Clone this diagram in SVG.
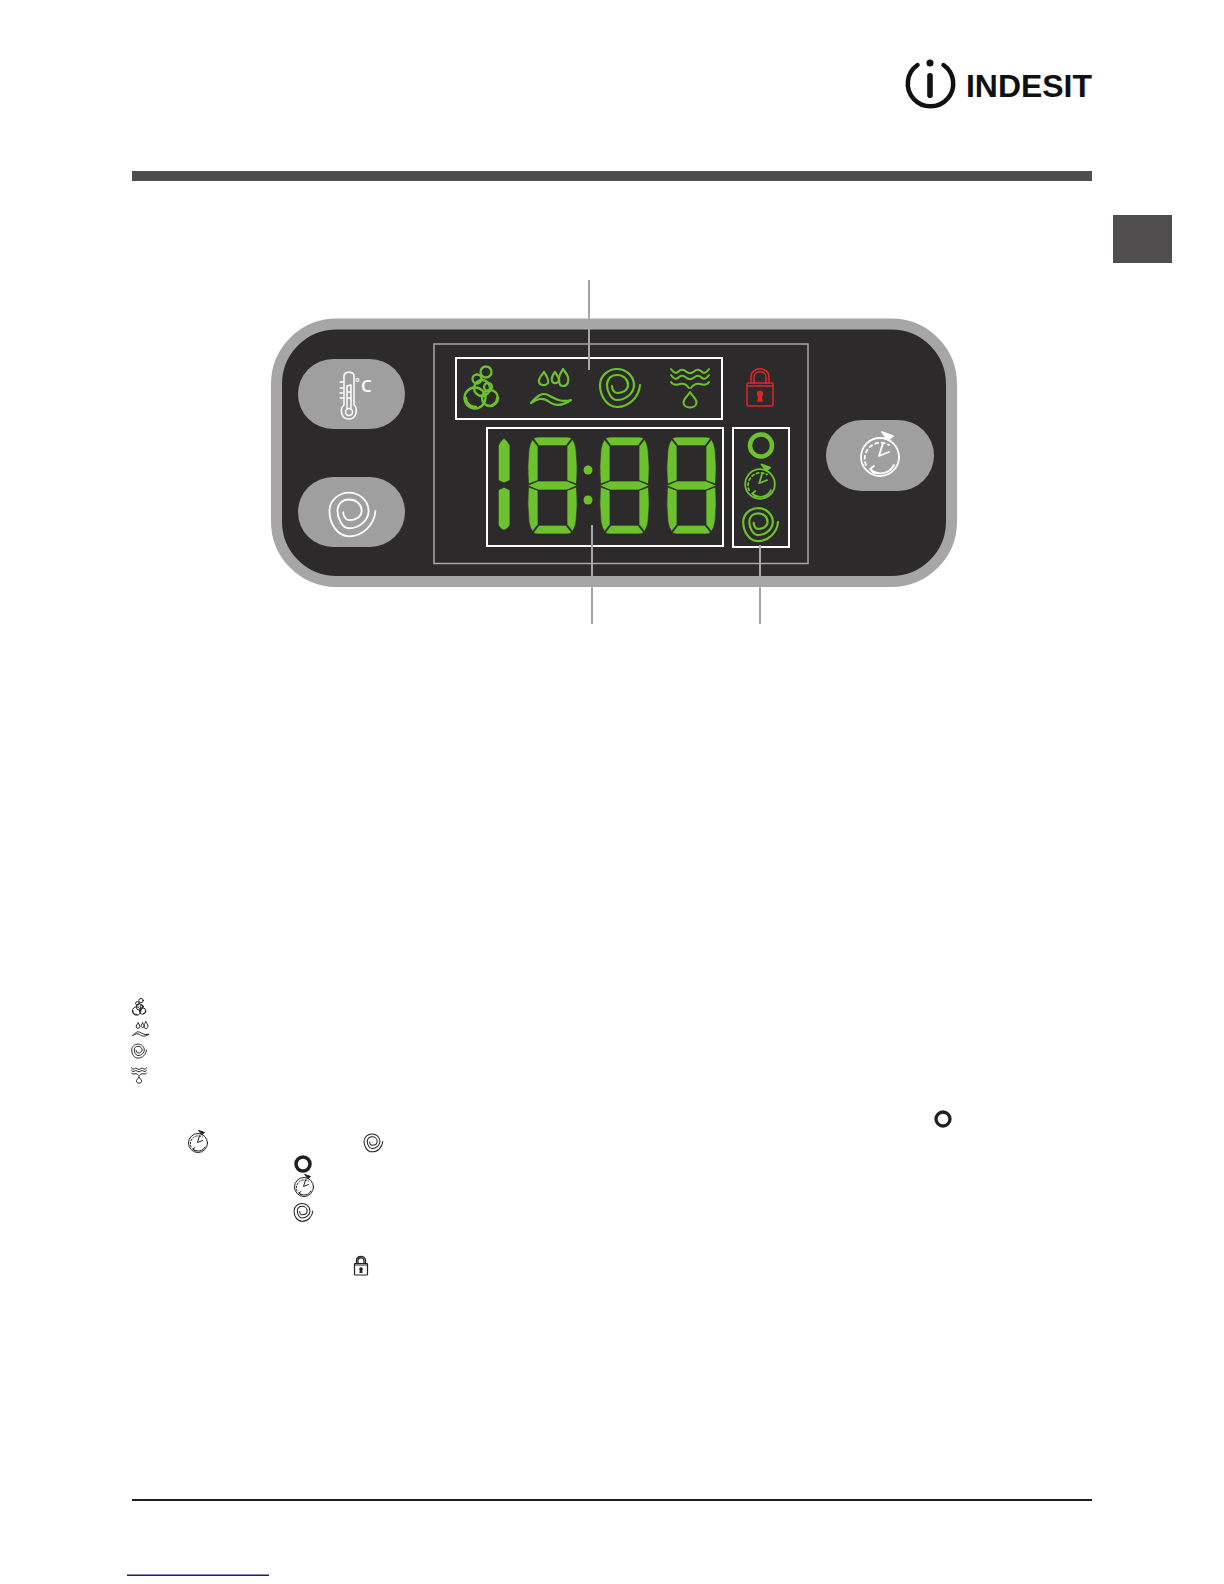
<svg xmlns="http://www.w3.org/2000/svg" width="1224" height="1584" viewBox="0 0 1224 1584">
<style>
.line{fill:none;stroke:currentColor;stroke-linecap:round;stroke-linejoin:round}
.box{fill:none;stroke:#fff;stroke-width:2}
.btn{fill:#a09f9f}
.conn{stroke:#a7a6a6;stroke-width:2;fill:none}
.seg{fill:#6cc22c;stroke:#2d2a2b;stroke-width:.7}
.g{color:#6cc22c}
.w{color:#fff}
.k{color:#231f20}
.r{color:#e0262a}
</style>
<defs>
<g id="spiral" class="line">
<path d="M23,0C22,12 12,22 0,22C-10,22 -17,11 -17,0C-17,-9 -9,-16 0,-16C9,-16 17,-9 17,0C17,8 9,15 0,15C-6,15 -10,6 -10,0C-10,-6 -6,-10 0,-10C6,-10 11,-6 11,0C11,5 6,8 0,8C-3,8 -5,4 -5,1"/>
</g>
<g id="watch" class="line">
<circle r="19"/>
<path d="M-14,8A16,16 0 0 1 9,-12" stroke-dasharray="3 3.500"/>
<path d="M3,-14L-1,-1L9,-5"/>
<path d="M-10,12A15,15 0 0 0 14,8M-10,12L-6,9M-10,12L-6,16"/>
<path d="M2,-25L13,-21L8,-17Z" fill="currentColor"/>
</g>
<g id="bubbles" class="line">
<circle cx="5" cy="-16" r="5.500"/><circle cx="-4" cy="-9" r="4.500"/><circle cx="1" cy="0" r="8"/>
<circle cx="7" cy="-1" r="4"/><circle cx="-6" cy="10" r="10.500"/><circle cx="9" cy="10" r="8"/>
<path d="M-15,10C-15,16 -10,19 -5,19"/><path d="M11,17C14,16 16,13 16,10"/>
</g>
<g id="drops" class="line">
<path d="M-7,-15C-10,-11 -13,-8 -12,-5C-11,-1 -5,-1 -3,-4C-2,-8 -5,-12 -7,-15Z"/>
<path d="M4,-15C1,-11 0,-9 1,-6C2,-3 7,-3 8,-7C8,-10 6,-12 4,-15Z"/>
<path d="M12,-18C10,-14 8,-12 8,-9C8,-5 8,-1 12,-1C17,-1 18,-6 17,-10C16,-13 14,-15 12,-18Z"/>
<path d="M-20,16C-14,9 -9,5 -3,8C3,11 9,16 20,13C10,20 3,19 -3,14C-9,10 -14,12 -20,16Z"/>
</g>
<g id="water" class="line">
<path d="M-19,-18Q-15,-12 -11.500,-15.500T-4,-15.500T4,-15.500T11.500,-15.500T19,-18"/>
<path d="M-19,-12Q-15,-6 -11.500,-9.500T-4,-9.500T4,-9.500T11.500,-9.500T19,-12"/>
<path d="M-19,-5C-17,-2 -13,-2 -10,-3C-6,-4 -3,-2 -1,1M19,-5C17,-2 13,-2 10,-3C6,-4 3,-2 1,1"/>
<path d="M0,5C-3,10 -6.500,12 -6.500,15.500C-6.500,22 6.500,22 6.500,15.500C6.500,12 3,10 0,5Z"/>
</g>
<g id="lock" class="line">
<path d="M-9,-5V-11C-9,-22 9,-22 9,-11V-5M-6,-5V-11C-6,-18 6,-18 6,-11V-5"/>
<rect x="-13" y="-5" width="26" height="23" rx="1.500"/>
<path d="M-13,-2H13"/>
<circle cy="6" r="2.400" fill="currentColor"/>
<path d="M-2,13L-1,7H1L2,13Z" fill="currentColor"/>
</g>
<g id="d1">
<path class="seg" d="M6,1.300Q10,4 12,9V43.300L6,46L.3,43.300V9Q2,4 6,1.300Z"/>
<path class="seg" d="M6,93.300Q10,92 12,88V53L6,50.300L.3,53V88Q2,92 6,93.300Z"/>
</g>
<g id="d8">
<path class="seg" d="M5.500,1.500Q7,0 10,0H39Q42,0 43.500,1.500L38,8.700H11Z"/>
<path class="seg" d="M4.500,2.500L10,9.500V43.500L.5,47Q-1,30 1,12Q2,6 4.500,2.500Z"/>
<path class="seg" d="M44.500,2.500L39,9.500V43.500L48.500,47Q50,30 48,12Q47,6 44.500,2.500Z"/>
<path class="seg" d="M-.5,48.500L10,44H39L49.500,48.500L39,53H10Z"/>
<path class="seg" d="M4.500,94.500L10,87.500V53.500L.5,50Q-1,67 1,85Q2,91 4.500,94.500Z"/>
<path class="seg" d="M44.500,94.500L39,87.500V53.500L48.500,50Q50,67 48,85Q47,91 44.500,94.500Z"/>
<path class="seg" d="M5.500,95.500Q7,97 10,97H39Q42,97 43.500,95.500L38,88.300H11Z"/>
</g>
</defs>
<rect width="1224" height="1584" fill="#fff"/>
<g id="logo">
<path d="M917.500,65A22.700,22.700 0 1 0 943.500,65" fill="none" stroke="#111" stroke-width="4.500" stroke-linecap="round"/>
<circle cx="930" cy="63" r="3.500" fill="#111"/>
<rect x="927.200" y="73" width="5.600" height="25" rx="2.800" fill="#111"/>
<text x="966" y="97" font-family="'Liberation Sans',Arial,sans-serif" font-weight="700" font-size="32" textLength="126" lengthAdjust="spacingAndGlyphs" fill="#111">INDESIT</text>
</g>
<g id="page-rules">
<rect x="132" y="171" width="960" height="10" fill="#4f4d4d"/>
<rect x="1113" y="215" width="59" height="48" fill="#4f4d4d"/>
<rect x="132" y="1499" width="960" height="2" fill="#231f20"/>
<rect x="127" y="1574.500" width="142" height="1.500" fill="#1a1a8c"/>
</g>
<g id="panel">
<rect x="276.500" y="324" width="675" height="257.500" rx="60" fill="#2d2a2b" stroke="#a7a6a6" stroke-width="11"/>
<rect x="434" y="344" width="374" height="219.500" fill="none" stroke="#a7a6a6" stroke-width="1.500"/>
</g>
<g id="button-temperature">
<rect class="btn" x="298" y="359" width="107" height="70" rx="35"/>
<g class="line w" stroke-width="1.500">
<path d="M344,405V376C344,371 354,371 354,376V405C358,408 357,419 349,419C340,419 340,408 344,405Z"/>
<circle cx="349" cy="412" r="3.500"/>
<path d="M347,408V386L351,385V408M347,392H351M347,398H351M340,382H343M340,388H343M340,393H343M340,398H343"/>
</g>
<text font-family="'Open Sans',Arial,sans-serif" font-weight="600" fill="#fff"><tspan x="355" y="386" font-size="11">°</tspan><tspan x="361" y="392" font-size="17">C</tspan></text>
</g>
<g id="button-spin">
<rect class="btn" x="298" y="477" width="107" height="70" rx="35"/>
<use href="#spiral" class="w" transform="translate(349,511) scale(1.150)" stroke-width="1.600"/>
</g>
<g id="button-delay">
<rect class="btn" x="826" y="420" width="108" height="71" rx="35.500"/>
<use href="#watch" class="w" transform="translate(880,457)" stroke-width="1.800"/>
</g>
<g id="phase-indicators">
<rect class="box" x="456" y="358" width="266" height="61"/>
<use href="#bubbles" class="g" transform="translate(481,388)" stroke-width="2.300"/>
<use href="#drops" class="g" transform="translate(551,387)" stroke-width="2.200"/>
<use href="#spiral" class="g" transform="translate(617,385)" stroke-width="2.200"/>
<use href="#water" class="g" transform="translate(690,387)" stroke-width="2"/>
</g>
<g id="door-lock">
<use href="#lock" class="r" transform="translate(760,388)" stroke-width="1.500"/>
</g>
<g id="display">
<rect class="box" x="487" y="428" width="236" height="118"/>
<use href="#d1" transform="translate(498,437)"/>
<use href="#d8" transform="translate(528,437)"/>
<circle cx="588" cy="470" r="4.500" fill="#6cc22c"/>
<circle cx="588" cy="500" r="4.500" fill="#6cc22c"/>
<use href="#d8" transform="translate(600,437)"/>
<use href="#d8" transform="translate(667,437)"/>
</g>
<g id="option-indicators">
<rect class="box" x="733" y="428" width="56" height="119"/>
<circle cx="761" cy="445.500" r="11" fill="none" stroke="#6cc22c" stroke-width="4.500"/>
<use href="#watch" class="g" transform="translate(760,484) scale(.78)" stroke-width="2.300"/>
<use href="#spiral" class="g" transform="translate(758,522) scale(.87)" stroke-width="2.500"/>
</g>
<g id="connectors">
<path class="conn" d="M589,280V370"/>
<path class="conn" d="M592,525V624"/>
<path class="conn" d="M760,545V624"/>
</g>
<g id="legend-icons" fill="none">
<use href="#bubbles" class="k" transform="translate(139,1007) scale(.4)" stroke-width="2.400"/>
<use href="#drops" class="k" transform="translate(141,1029) scale(.4)" stroke-width="2.400"/>
<use href="#spiral" class="k" transform="translate(138,1050) scale(.37)" stroke-width="2.600"/>
<use href="#water" class="k" transform="translate(139,1075) scale(.4)" stroke-width="2.400"/>
<circle cx="943" cy="1119" r="7" stroke="#231f20" stroke-width="3.300"/>
<use href="#watch" class="k" transform="translate(198,1143) scale(.5)" stroke-width="2"/>
<use href="#spiral" class="k" transform="translate(372,1141.500) scale(.47)" stroke-width="2.200"/>
<circle cx="303" cy="1164" r="7" stroke="#231f20" stroke-width="3.500"/>
<use href="#watch" class="k" transform="translate(304,1187) scale(.5)" stroke-width="2"/>
<use href="#spiral" class="k" transform="translate(302,1211) scale(.47)" stroke-width="2.200"/>
<use href="#lock" class="k" transform="translate(361,1266) scale(.5)" stroke-width="2.400"/>
</g>
</svg>
